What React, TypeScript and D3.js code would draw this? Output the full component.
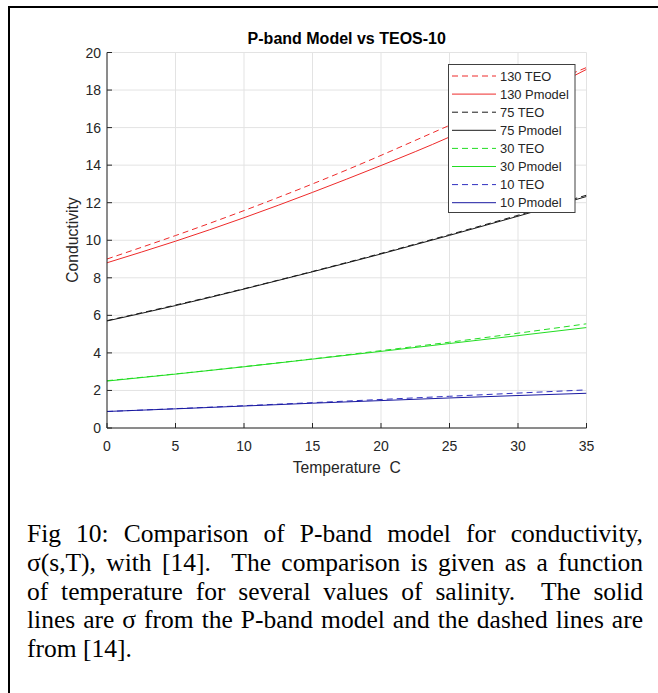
import React, { useEffect, useRef } from 'react';
import * as d3 from 'd3';

// ---- data ----
const temperatures = [0, 5, 10, 15, 20, 25, 30, 35];
const teo130 = [9.0, 10.25, 11.58, 13.0, 14.52, 16.12, 17.68, 19.2];
const pmodel130 = [8.8, 9.95, 11.2, 12.55, 13.98, 15.5, 17.25, 19.1];
const teo75 = [5.72, 6.55, 7.42, 8.34, 9.3, 10.3, 11.33, 12.4];
const pmodel75 = [5.7, 6.52, 7.4, 8.32, 9.27, 10.26, 11.28, 12.33];
const teo30 = [2.52, 2.88, 3.27, 3.68, 4.12, 4.57, 5.05, 5.55];
const pmodel30 = [2.5, 2.87, 3.26, 3.67, 4.08, 4.5, 4.92, 5.35];
const teo10 = [0.88, 1.03, 1.19, 1.35, 1.52, 1.69, 1.86, 2.03];
const pmodel10 = [0.88, 1.02, 1.17, 1.32, 1.46, 1.6, 1.73, 1.85];
const seriesNames = ['130 TEO', '130 Pmodel', '75 TEO', '75 Pmodel', '30 TEO', '30 Pmodel', '10 TEO', '10 Pmodel'];
const xTicks = [0, 5, 10, 15, 20, 25, 30, 35];
const yTicks = [0, 2, 4, 6, 8, 10, 12, 14, 16, 18, 20];
const titleText = 'P-band Model vs TEOS-10';
const xLabel = 'Temperature  C';
const yLabel = 'Conductivity';
const captionLines = [
  'Fig 10: Comparison of P-band model for conductivity,',
  'σ(s,T), with [14].  The comparison is given as a function',
  'of temperature for several values of salinity.  The solid',
  'lines are σ from the P-band model and the dashed lines are',
  'from [14].',
];

export default function App() {
  const W = 658, H = 693;
  const left = 107, right = 586.5, top = 52.5, bottom = 428;
  const x = d3.scaleLinear().domain([0, 35]).range([left, right]);
  const y = d3.scaleLinear().domain([0, 20]).range([bottom, top]);
  const lineGen = d3.line<number>()
    .x((_, i) => x(temperatures[i]))
    .y((d) => y(d))
    .curve(d3.curveNatural);

  const seriesValues = [teo130, pmodel130, teo75, pmodel75, teo30, pmodel30, teo10, pmodel10];
  const colors = ['#ee2a2a', '#ee2a2a', '#1a1a1a', '#1a1a1a', '#22dd22', '#22dd22', '#3030c0', '#1a1aa0'];
  const series = seriesNames.map((name, i) => ({
    name,
    values: seriesValues[i],
    color: colors[i],
    dashed: i % 2 === 0,
  }));

  const capRef = useRef<SVGGElement>(null);
  useEffect(() => {
    const g = d3.select(capRef.current);
    g.selectAll('*').remove();
    const capLeft = 27, capRight = 643;
    const baselines = [542, 571, 599.5, 628, 656.5];
    captionLines.forEach((ln, i) => {
      const words = ln.split(/ +/);
      const gaps = (ln.match(/ +/g) || []).map((s) => s.length);
      const els = words.map((w) =>
        g.append('text')
          .attr('y', baselines[i])
          .attr('font-family', '"Liberation Serif", "Times New Roman", serif')
          .attr('font-size', 25.5)
          .attr('fill', '#000')
          .text(w)
      );
      const widths = els.map((e) => (e.node() as SVGTextElement).getComputedTextLength());
      const total = d3.sum(widths);
      const units = d3.sum(gaps);
      const justify = i < captionLines.length - 1;
      const unit = justify && units > 0 ? (capRight - capLeft - total) / units : 6.4;
      let cx = capLeft;
      els.forEach((e, k) => {
        e.attr('x', cx);
        cx += widths[k] + (gaps[k] || 0) * unit;
      });
    });
  }, []);

  const font = '"Liberation Sans", Arial, Helvetica, sans-serif';
  const textColor = '#262626';
  const legX = 448.5, legY = 64.5, legW = 126.5, legH = 148, legRow0 = 76, legStep = 18.1;

  return (
    <svg width={W} height={H} style={{ position: 'absolute', left: 0, top: 0, background: '#fff' }}>
      <defs>
        <clipPath id="plotClip">
          <rect x={left} y={top} width={right - left} height={bottom - top} />
        </clipPath>
      </defs>
      <rect x={9} y={7} width={800} height={800} fill="none" stroke="#000" strokeWidth={2} />

      {/* grid */}
      <g stroke="#e3e3e3" strokeWidth={1}>
        {xTicks.map((t) => (
          <line key={'gx' + t} x1={x(t)} x2={x(t)} y1={top} y2={bottom} />
        ))}
        {yTicks.map((t) => (
          <line key={'gy' + t} x1={left} x2={right} y1={y(t)} y2={y(t)} />
        ))}
      </g>

      {/* series */}
      <g clipPath="url(#plotClip)" fill="none">
        {series.map((s) => (
          <path
            key={s.name}
            d={lineGen(s.values) || ''}
            stroke={s.color}
            strokeWidth={1}
            strokeDasharray={s.dashed ? '6,4' : undefined}
          />
        ))}
      </g>

      {/* axes */}
      <g stroke={textColor} strokeWidth={1}>
        <line x1={left} x2={left} y1={top} y2={bottom} />
        <line x1={left} x2={right} y1={bottom} y2={bottom} />
        {xTicks.map((t) => (
          <line key={'tx' + t} x1={x(t)} x2={x(t)} y1={bottom} y2={bottom - 5} />
        ))}
        {yTicks.map((t) => (
          <line key={'ty' + t} x1={left} x2={left + 5} y1={y(t)} y2={y(t)} />
        ))}
      </g>
      <g fontFamily={font} fontSize={14} fill={textColor}>
        {xTicks.map((t) => (
          <text key={'lx' + t} x={x(t)} y={451} textAnchor="middle">{t}</text>
        ))}
        {yTicks.map((t) => (
          <text key={'ly' + t} x={left - 6} y={y(t) + 5} textAnchor="end">{t}</text>
        ))}
      </g>
      <text x={(left + right) / 2} y={473} textAnchor="middle" fontFamily={font} fontSize={15.7} fill={textColor} style={{ whiteSpace: 'pre' }}>{xLabel}</text>
      <text transform={`translate(78,240) rotate(-90)`} textAnchor="middle" fontFamily={font} fontSize={15.7} fill={textColor}>{yLabel}</text>
      <text x={(left + right) / 2} y={44} textAnchor="middle" fontFamily={font} fontSize={16} fontWeight="bold" fill="#000">{titleText}</text>

      {/* legend */}
      <rect x={legX} y={legY} width={legW} height={legH} fill="#fff" stroke="#404040" strokeWidth={1} />
      {series.map((s, i) => {
        const ly = legRow0 + i * legStep;
        return (
          <g key={'leg' + s.name}>
            <line x1={452} x2={496} y1={ly} y2={ly} stroke={s.color} strokeWidth={1} strokeDasharray={s.dashed ? '6,4' : undefined} />
            <text x={500} y={ly + 4.6} fontFamily={font} fontSize={12.9} fill={textColor}>{s.name}</text>
          </g>
        );
      })}

      <g ref={capRef} />
    </svg>
  );
}
